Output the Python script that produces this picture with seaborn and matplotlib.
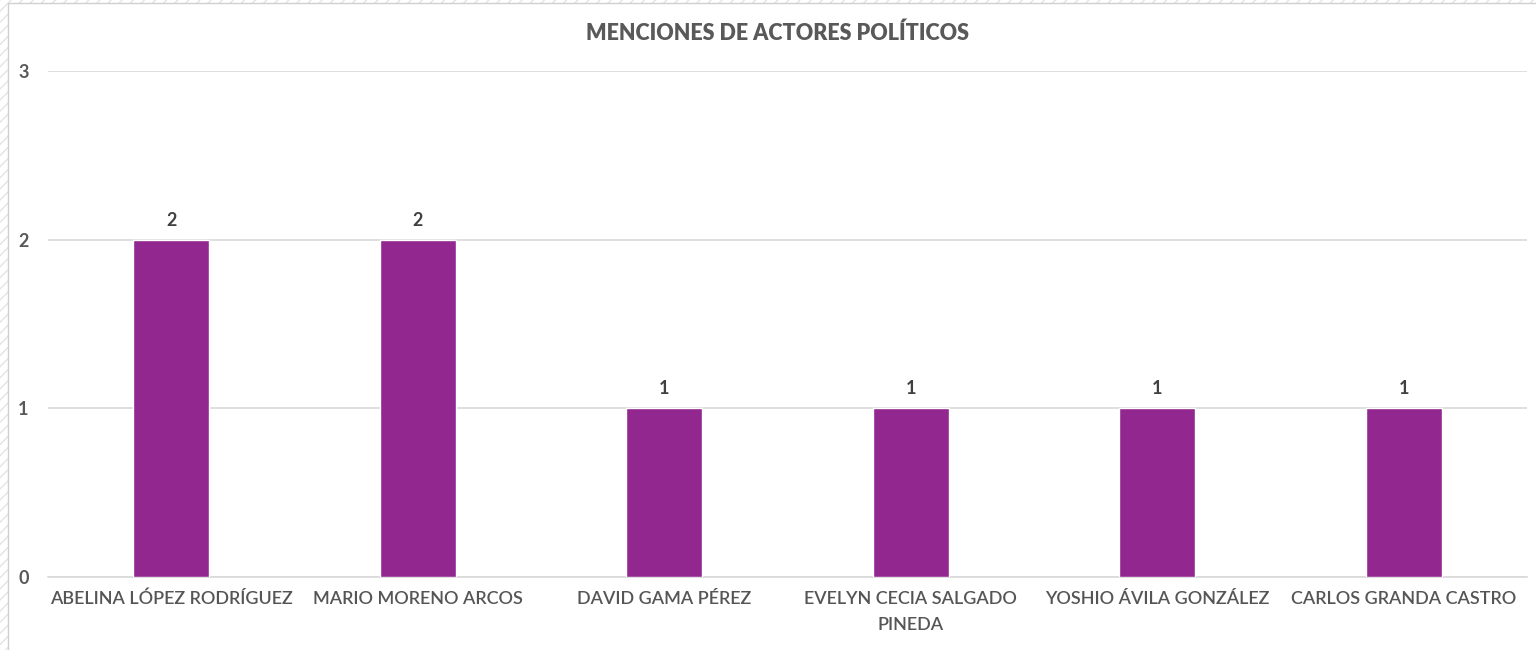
import matplotlib
matplotlib.use('Agg')
import matplotlib.pyplot as plt
from matplotlib.patches import Rectangle
import seaborn as sns
import pandas as pd

# data
actores = ['ABELINA LÓPEZ RODRÍGUEZ', 'MARIO MORENO ARCOS', 'DAVID GAMA PÉREZ',
           'EVELYN CECIA SALGADO\nPINEDA', 'YOSHIO ÁVILA GONZÁLEZ', 'CARLOS GRANDA CASTRO']
menciones = [2, 2, 1, 1, 1, 1]
y_ticks = [0, 1, 2, 3]

df = pd.DataFrame({'actor': actores, 'menciones': menciones})

sns.set_style('white')
plt.rcParams['font.family'] = ['Lato', 'DejaVu Sans']

fig = plt.figure(figsize=(15.36, 6.5), dpi=100)

# hatched outer frame like the Excel chart selection
fig.patches.append(Rectangle((0, 0), 1, 1, transform=fig.transFigure, facecolor='white',
                             edgecolor='#e4e4e4', hatch='///', linewidth=0, zorder=-2))
fig.patches.append(Rectangle((8 / 1536, -0.01), 1.0, 1 - 3 / 650 + 0.01, transform=fig.transFigure,
                             facecolor='white', edgecolor='#d0d0d0', linewidth=1, zorder=-1))

ax = fig.add_axes([48 / 1536, 1 - 577 / 650, 1479 / 1536, 506 / 650])
ax.patch.set_alpha(0)

sns.barplot(data=df, x='actor', y='menciones', color='#92278F', width=0.31,
            saturation=1, ax=ax, zorder=3)

ax.set_ylim(0, 3)
ax.set_xlim(-0.5, len(actores) - 0.5)
ax.set_yticks(y_ticks)
ax.set_yticklabels([str(t) for t in y_ticks], fontsize=13, fontweight='bold', color='#595959')
ax.tick_params(axis='y', length=0, pad=14)
ax.tick_params(axis='x', length=0, pad=10)
for lbl in ax.get_xticklabels():
    lbl.set_fontsize(13)
    lbl.set_color('#555555')
    lbl.set_fontweight('semibold')
    lbl.set_linespacing(1.75)

ax.grid(axis='y', color='#d9d9d9', linewidth=1.2, zorder=0)
for s in ['top', 'right', 'left']:
    ax.spines[s].set_visible(False)
ax.spines['bottom'].set_color('#d9d9d9')
ax.spines['bottom'].set_linewidth(1.2)

ax.set_xlabel('')
ax.set_ylabel('')

for cont in ax.containers:
    ax.bar_label(cont, fmt='%d', padding=8, fontsize=13, fontweight='bold', color='#404040')

fig.text(777 / 1536, 1 - 33 / 650, 'MENCIONES DE ACTORES POLÍTICOS', ha='center', va='center',
         fontsize=15.5, fontweight='heavy', color='#595959')

fig.savefig('out.png', dpi=100)
